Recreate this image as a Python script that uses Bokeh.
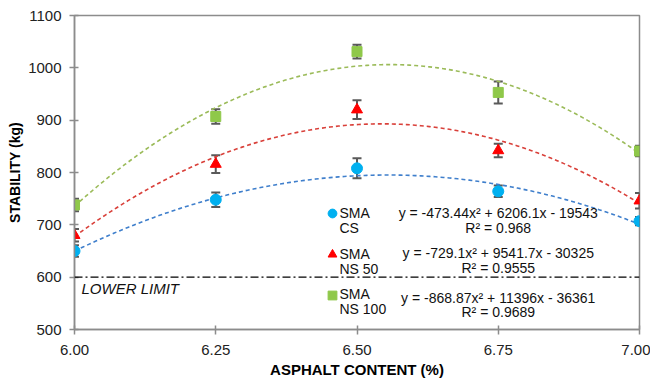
import numpy as np
from bokeh.plotting import figure
from bokeh.models import Range1d, Whisker, TeeHead, ColumnDataSource, Legend, LegendItem, Label, Span, NumeralTickFormatter, FixedTicker
from bokeh.embed import file_html
from bokeh.resources import INLINE

# ---- data ----
asphalt = [6.00, 6.25, 6.50, 6.75, 7.00]
sma_cs = [650, 748, 808, 764, 707]
sma_cs_err = [11, 14, 19, 11, 8]
sma_ns50 = [680, 816, 920, 842, 746]
sma_ns50_err = [12, 17, 18, 13, 15]
sma_ns100 = [738, 907, 1031, 953, 841]
sma_ns100_err = [12, 14, 13, 21, 10]

# trendline coefficients (a, b, c) from the chart's equations
coef_cs = [-473.44, 6206.1, -19543]
coef_ns50 = [-729.1, 9541.7, -30325]
coef_ns100 = [-868.87, 11396, -36361]
eq_cs = ["y = -473.44x² + 6206.1x - 19543", "R² = 0.968"]
eq_ns50 = ["y = -729.1x² + 9541.7x - 30325", "R² = 0.9555"]
eq_ns100 = ["y = -868.87x² + 11396x - 36361", "R² = 0.9689"]
series_names = ["SMA", "SMA", "SMA"]
series_sub = ["CS", "NS 50", "NS 100"]
lower_limit = 600
x_ticks = [6.00, 6.25, 6.50, 6.75, 7.00]
y_ticks = [500, 600, 700, 800, 900, 1000, 1100]

FONT = "Liberation Sans"

p = figure(width=650, height=380, output_backend="svg", toolbar_location=None,
           x_range=Range1d(6.0, 7.0), y_range=Range1d(500, 1100),
           min_border_left=74, min_border_right=11, min_border_top=15, min_border_bottom=51)
p.grid.visible = False
p.outline_line_color = "#8c8c8c"
p.outline_line_width = 1.5
p.background_fill_color = "white"
p.border_fill_color = "white"

for ax in (p.xaxis[0], p.yaxis[0]):
    ax.axis_line_color = "#8c8c8c"
    ax.axis_line_width = 1.5
    ax.major_tick_line_color = "#8c8c8c"
    ax.major_tick_line_width = 1.5
    ax.minor_tick_line_color = None
    ax.major_tick_out = 5
    ax.major_tick_in = 4
    ax.major_label_text_font = FONT
    ax.major_label_text_font_size = "15px"
    ax.major_label_text_color = "#222222"
    ax.axis_label_text_font = FONT
    ax.axis_label_text_font_style = "bold"
    ax.axis_label_text_color = "black"

p.xaxis.axis_label_text_font_size = "15px"
p.yaxis.axis_label_text_font_size = "14px"
p.xaxis.ticker = FixedTicker(ticks=x_ticks)
p.yaxis.ticker = FixedTicker(ticks=y_ticks)
p.xaxis.formatter = NumeralTickFormatter(format="0.00")
p.xaxis.axis_label = "ASPHALT CONTENT (%)"
p.yaxis.axis_label = "STABILITY (kg)"
p.xaxis.major_label_standoff = 10
p.yaxis.major_label_standoff = 8
p.xaxis.axis_label_standoff = 3
p.yaxis.axis_label_standoff = 2

# lower limit
p.add_layout(Span(location=lower_limit, dimension="width", line_color="black",
                  line_width=1.3, line_dash="8 3 2 3"))
p.add_layout(Label(x=6.0124, y=578, text="LOWER LIMIT", text_font=FONT, text_font_size="15px",
                   text_font_style="italic", text_baseline="middle", text_color="#111111"))

series = [
    (sma_cs, sma_cs_err, coef_cs, eq_cs, "#00b0f0", "#3f7fcc", "circle", 11),
    (sma_ns50, sma_ns50_err, coef_ns50, eq_ns50, "#ff0000", "#d9403a", "triangle", 11),
    (sma_ns100, sma_ns100_err, coef_ns100, eq_ns100, "#8fc84a", "#9bbb59", "square", 10),
]

xs = np.linspace(6.0, 7.0, 200)
items = []
for vals, errs, coef, eq, mcol, lcol, marker, size in series:
    ys = coef[0] * xs ** 2 + coef[1] * xs + coef[2]
    p.line(xs, ys, line_color=lcol, line_width=1.6, line_dash="4 3")
    src = ColumnDataSource(dict(x=asphalt, y=vals,
                                lo=[v - e for v, e in zip(vals, errs)],
                                hi=[v + e for v, e in zip(vals, errs)]))
    w = Whisker(source=src, base="x", upper="hi", lower="lo", line_color="#595959", line_width=2,
                upper_head=TeeHead(size=9, line_color="#595959", line_width=2),
                lower_head=TeeHead(size=9, line_color="#595959", line_width=2))
    p.add_layout(w)
    r = p.scatter("x", "y", source=src, marker=marker, size=size, fill_color=mcol,
                  line_color=mcol)
    items.append(r)

# legend glyphs (text drawn as labels below so the two-line entries line up)
legend = Legend(items=[LegendItem(label=n, renderers=[r]) for n, r in zip(series_names, items)],
                location=(247, 23), orientation="vertical")
legend.background_fill_alpha = 0
legend.border_line_alpha = 0
legend.padding = 0
legend.margin = 0
legend.glyph_width = 22
legend.glyph_height = 22
legend.label_standoff = 0
legend.label_height = 18
legend.spacing = 19
legend.label_text_font = FONT
legend.label_text_font_size = "14px"
legend.label_text_alpha = 0
p.add_layout(legend)

name_y = [723, 645, 568]
sub_y = [693, 615, 540]
for n, t, y1, y2 in zip(series_names, series_sub, name_y, sub_y):
    for txt, yy in ((n, y1), (t, y2)):
        p.add_layout(Label(x=6.469, y=yy, text=txt, text_font=FONT, text_font_size="14px",
                           text_baseline="middle", text_color="#111111"))

eq_y = [(723, 693), (647, 618), (561, 534)]
for eq, (y1, y2) in zip([eq_cs, eq_ns50, eq_ns100], eq_y):
    for t, yy in zip(eq, (y1, y2)):
        p.add_layout(Label(x=6.75, y=yy, text=t, text_font=FONT, text_font_size="14px",
                           text_align="center", text_baseline="middle", text_color="#111111"))

open("out.html", "w").write(file_html(p, INLINE))
